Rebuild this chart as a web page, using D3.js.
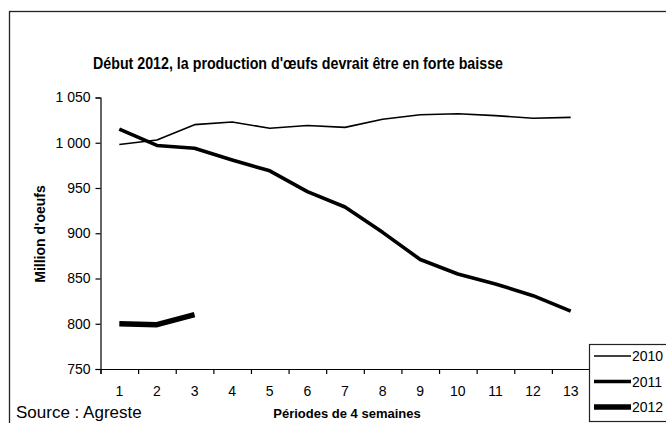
<!DOCTYPE html>
<html lang="fr">
<head>
    <meta charset="UTF-8">
    <title>Production d'oeufs</title>
    <script src="https://cdnjs.cloudflare.com/ajax/libs/d3/7.8.5/d3.min.js"></script>
    <style>
        body { margin: 0; background: #fff; }
        svg { display: block; font-family: Arial, "Liberation Sans", sans-serif; }
    </style>
</head>
<body>
    <svg width="666" height="423"></svg>

    <script>
        // data (million eggs, per 4-week period)
        var periods = [1, 2, 3, 4, 5, 6, 7, 8, 9, 10, 11, 12, 13];
        var years = ["2010", "2011", "2012"];
        var v2010 = [998, 1003, 1020, 1023, 1016, 1019, 1017, 1026, 1031, 1032, 1030, 1027, 1028];
        var v2011 = [1015, 997, 994, 981, 969, 946, 929, 901, 871, 855, 844, 831, 814];
        var v2012 = [800, 799, 810];
        var yTicks = [750, 800, 850, 900, 950, 1000, 1050];

        var svg = d3.select("svg");
        var widths = { "2010": 1.6, "2011": 3.6, "2012": 5.5 };
        var values = { "2010": v2010, "2011": v2011, "2012": v2012 };

        // outer frame
        svg.append("rect")
            .attr("x", 9.5).attr("y", 11.5)
            .attr("width", 700).attr("height", 450)
            .attr("fill", "none").attr("stroke", "#222").attr("stroke-width", 1.3);

        var x = d3.scaleLinear().domain([0.5, 13.5]).range([100.5, 589.5]);
        var y = d3.scaleLinear().domain([750, 1050]).range([369, 97.5]);

        // y axis
        var yAxis = svg.append("g")
            .attr("transform", "translate(100.5,0)")
            .call(d3.axisLeft(y).tickValues(yTicks).tickSize(5).tickPadding(5)
                .tickFormat(d => d3.format(",")(d).replace(",", " ")));

        // x axis: marks between periods, labels under periods
        var xAxis = svg.append("g")
            .attr("transform", "translate(0,369)")
            .call(d3.axisBottom(x).tickValues(d3.range(0.5, 14, 1)).tickSize(5).tickFormat(""));

        svg.append("g")
            .selectAll("text")
            .data(periods)
            .join("text")
            .attr("x", d => x(d))
            .attr("y", 396)
            .attr("text-anchor", "middle")
            .attr("font-size", 14)
            .text(d => d);

        svg.selectAll(".domain, .tick line").attr("stroke", "#000").attr("stroke-width", 1.2);
        yAxis.selectAll("text").attr("font-size", 14).attr("fill", "#000")
            .attr("font-family", "Arial, 'Liberation Sans', sans-serif");

        // lines
        var line = d3.line()
            .x((d, i) => x(periods[i]))
            .y(d => y(d));

        svg.append("g")
            .selectAll("path")
            .data(years)
            .join("path")
            .attr("d", k => line(values[k]))
            .attr("fill", "none")
            .attr("stroke", "#000")
            .attr("stroke-width", k => widths[k])
            .attr("stroke-linejoin", "round");

        // title
        svg.append("text")
            .attr("x", 93).attr("y", 69)
            .attr("font-size", 17).attr("font-weight", "bold")
            .attr("textLength", 410).attr("lengthAdjust", "spacingAndGlyphs")
            .text("Début 2012, la production d'œufs devrait être en forte baisse");

        // axis titles
        svg.append("text")
            .attr("transform", "translate(45,234) rotate(-90)")
            .attr("text-anchor", "middle")
            .attr("font-size", 14).attr("font-weight", "bold")
            .text("Million d'oeufs");

        svg.append("text")
            .attr("x", 347).attr("y", 418)
            .attr("text-anchor", "middle")
            .attr("font-size", 13).attr("font-weight", "bold")
            .text("Périodes de 4 semaines");

        svg.append("text")
            .attr("x", 16).attr("y", 418)
            .attr("font-size", 17)
            .text("Source : Agreste");

        // legend
        var legend = svg.append("g");
        legend.append("rect")
            .attr("x", 589.5).attr("y", 344.5)
            .attr("width", 100).attr("height", 77)
            .attr("fill", "#fff").attr("stroke", "#222").attr("stroke-width", 1.2);

        var item = legend.selectAll("g.item")
            .data(years)
            .join("g")
            .attr("class", "item")
            .attr("transform", (d, i) => "translate(0," + (356 + i * 25.5) + ")");

        item.append("line")
            .attr("x1", 594).attr("x2", 631)
            .attr("stroke", "#000")
            .attr("stroke-width", d => widths[d]);

        item.append("text")
            .attr("x", 632).attr("y", 5)
            .attr("font-size", 14)
            .text(d => d);
    </script>
</body>
</html>
